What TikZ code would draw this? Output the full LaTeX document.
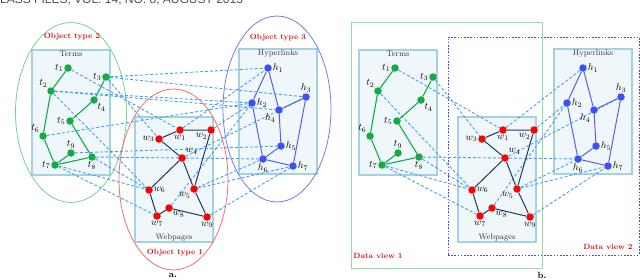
\documentclass[tikz,border=0pt]{standalone}
\usepackage{fontspec}
\newfontfamily\headfont{Liberation Sans}
\usetikzlibrary{shapes.geometric}
\definecolor{tgreen}{RGB}{20,170,70}
\definecolor{wred}{RGB}{255,0,0}
\definecolor{wedgecol}{RGB}{30,55,100}
\definecolor{hblue}{RGB}{60,80,250}
\definecolor{hedgecol}{RGB}{85,95,235}
\definecolor{dlink}{RGB}{70,160,240}
\definecolor{boxfill}{RGB}{240,247,250}
\definecolor{boxline}{RGB}{165,210,225}
\definecolor{ellg}{RGB}{120,210,150}
\definecolor{ellr}{RGB}{240,110,110}
\definecolor{ellb}{RGB}{120,120,240}
\definecolor{dvblue}{RGB}{70,70,255}
\definecolor{titred}{RGB}{210,20,30}
\definecolor{headgray}{RGB}{80,80,80}
\pgfdeclarelayer{back}
\pgfdeclarelayer{mid}
\pgfsetlayers{back,mid,main}
\tikzset{
  tdot/.style={circle,fill=tgreen,inner sep=0pt,minimum size=7.5pt},
  wdot/.style={circle,fill=wred,inner sep=0pt,minimum size=7.5pt},
  hdot/.style={circle,fill=hblue,inner sep=0pt,minimum size=7.5pt},
  tedge/.style={draw=tgreen,line width=1.1pt},
  wedgeline/.style={draw=wedgecol,line width=1pt},
  hedgeline/.style={draw=hedgecol,line width=1pt},
  link/.style={draw=dlink,line width=0.9pt,dash pattern=on 3pt off 2pt},
  groupbox/.style={draw=boxline,fill=boxfill,line width=1.2pt,inner sep=0pt,minimum width=78pt,minimum height=125pt},
  boxtitle/.style={font=\fontsize{8}{9}\selectfont,text=black!80,inner sep=1.5pt},
  lbl/.style={font=\fontsize{10}{11}\selectfont,inner sep=0.6pt},
  objtitle/.style={font=\bfseries\fontsize{7.6}{9}\selectfont,text=titred,inner sep=0pt},
  ellline/.style={ellipse,inner sep=0pt,line width=0.8pt},
}
\newcommand\mkpanel[4]{%
  \begin{pgfonlayer}{back}
    \node[groupbox] (#1terms) at ({#2+71},112.5) {};
    \node[groupbox] (#1webs) at ({#3+174},179.5) {};
    \node[groupbox] (#1hyps) at ({#4+278},111.5) {};
  \end{pgfonlayer}
  \node[boxtitle,anchor=north] (#1termst) at (#1terms.north) {Terms};
  \node[boxtitle,anchor=south] (#1webst) at (#1webs.south) {Webpages};
  \node[boxtitle,anchor=north] (#1hypst) at (#1hyps.north) {Hyperlinks};
  % terms
  \node[tdot,label={[lbl]left:$t_1$}] (#1t1) at ({#2+68},68) {};
  \node[tdot,label={[lbl]above left:$t_2$}] (#1t2) at ({#2+51},91) {};
  \node[tdot,label={[lbl]left:$t_3$}] (#1t3) at ({#2+106},77) {};
  \node[tdot,label={[lbl]below right:$t_4$}] (#1t4) at ({#2+94},100) {};
  \node[tdot,label={[lbl]left:$t_5$}] (#1t5) at ({#2+70},121) {};
  \node[tdot,label={[lbl]above left:$t_6$}] (#1t6) at ({#2+43},136) {};
  \node[tdot,label={[lbl]left:$t_7$}] (#1t7) at ({#2+55},165) {};
  \node[tdot,label={[lbl]below:$t_8$}] (#1t8) at ({#2+92},157) {};
  \node[tdot,label={[lbl]above:$t_9$}] (#1t9) at ({#2+71},153) {};
  % webpages
  \node[wdot,label={[lbl]below:$w_1$}] (#1w1) at ({#3+180},130) {};
  \node[wdot,label={[lbl]below left:$w_2$}] (#1w2) at ({#3+211},130) {};
  \node[wdot,label={[lbl]left:$w_3$}] (#1w3) at ({#3+159},139) {};
  \node[wdot,label={[lbl]above right:$w_4$}] (#1w4) at ({#3+182},158) {};
  \node[wdot,label={[lbl]below left:$w_5$}] (#1w5) at ({#3+194},189) {};
  \node[wdot,label={[lbl]right:$w_6$}] (#1w6) at ({#3+149},190) {};
  \node[wdot,label={[lbl]below:$w_7$}] (#1w7) at ({#3+157},216) {};
  \node[wdot,label={[lbl]below right:$w_8$}] (#1w8) at ({#3+169},208) {};
  \node[wdot,label={[lbl]below:$w_9$}] (#1w9) at ({#3+207},217) {};
  % hyperlinks
  \node[hdot,label={[lbl]right:$h_1$}] (#1h1) at ({#4+268},68) {};
  \node[hdot,label={[lbl]right:$h_2$}] (#1h2) at ({#4+252},103) {};
  \node[hdot,label={[lbl]above:$h_3$}] (#1h3) at ({#4+306},97) {};
  \node[hdot,label={[lbl]below left:$h_4$}] (#1h4) at ({#4+279},110) {};
  \node[hdot,label={[lbl]right:$h_5$}] (#1h5) at ({#4+281},146) {};
  \node[hdot,label={[lbl]below:$h_6$}] (#1h6) at ({#4+263},159) {};
  \node[hdot,label={[lbl]right:$h_7$}] (#1h7) at ({#4+293},166) {};
  \begin{pgfonlayer}{mid}
    % term-webpage links
    \foreach \a/\b in {t1/w1,t3/w3,t2/w6,t8/w6,t7/w6,t7/w7,t8/w4}
      \draw[link] (#1\a) -- (#1\b);
    % webpage-hyperlink links
    \foreach \a/\b in {w1/h1,w2/h2,w8/h2,w4/h6,w4/h3,w5/h6,w5/h7,w9/h7}
      \draw[link] (#1\a) -- (#1\b);
    % solid edges
    \draw[tedge] (#1t1) -- (#1t2) -- (#1t6) -- (#1t7) -- (#1t9);
    \draw[tedge] (#1t7) -- (#1t8) -- (#1t5) -- (#1t4) -- (#1t3);
    \draw[wedgeline] (#1w2) -- (#1w1) -- (#1w3) -- (#1w4) -- (#1w6) -- (#1w7) -- (#1w8) -- (#1w9) -- (#1w5) -- (#1w2);
    \draw[wedgeline] (#1w4) -- (#1w5);
    \draw[hedgeline] (#1h4) -- (#1h1) -- (#1h2) -- (#1h6) -- (#1h7) -- (#1h3) -- (#1h4) -- (#1h5) -- (#1h6);
  \end{pgfonlayer}
}
\begin{document}
\begin{tikzpicture}[x=1pt,y=-1pt]
\useasboundingbox (0,0) rectangle (640,279);
\node[anchor=base west,inner sep=0pt,font=\headfont\fontsize{12}{13}\selectfont,text=headgray] (hdr) at (0,3.3) {LASS FILES, VOL. 14, NO. 8, AUGUST 2015};
% ---------- panel a ----------
\mkpanel{a}{0}{0}{0}
\begin{pgfonlayer}{back}
  \node[ellline,draw=ellg,minimum width=111pt,minimum height=180pt] (ellg) at (71,112.5) {};
  \node[ellline,draw=ellr,minimum width=109pt,minimum height=181pt] (ellr) at (173.5,179.5) {};
  \node[ellline,draw=ellb,minimum width=108pt,minimum height=186pt] (ellb) at (277,109) {};
\end{pgfonlayer}
\begin{pgfonlayer}{mid}
  \foreach \a/\b in {t3/h1,t3/h3,t2/h2,t2/h4,t6/h2,t9/h5}
    \draw[link] (a\a) -- (a\b);
\end{pgfonlayer}
\node[objtitle] (ot2) at (72,37) {Object type 2};
\node[objtitle] (ot3) at (278,38) {Object type 3};
\node[objtitle] (ot1) at (175,253) {Object type 1};
\node[font=\bfseries\fontsize{9}{10}\selectfont,inner sep=0pt] (capa) at (173,275) {a.};
% ---------- panel b ----------
\begin{pgfonlayer}{back}
  \node[draw=ellg!80,line width=1pt,inner sep=0pt,minimum width=191pt,minimum height=246pt] (dv1) at (446.5,145) {};
  \node[draw=dvblue,line width=1pt,dash pattern=on 1.6pt off 1.6pt,inner sep=0pt,minimum width=191pt,minimum height=218pt] (dv2) at (543.5,146) {};
\end{pgfonlayer}
\mkpanel{b}{327}{323}{315}
\node[objtitle] (dv1t) at (378,256) {Data view 1};
\node[objtitle] (dv2t) at (608,247) {Data view 2};
\node[font=\bfseries\fontsize{9}{10}\selectfont,inner sep=0pt] (capb) at (542,275) {b.};
\end{tikzpicture}
\end{document}
